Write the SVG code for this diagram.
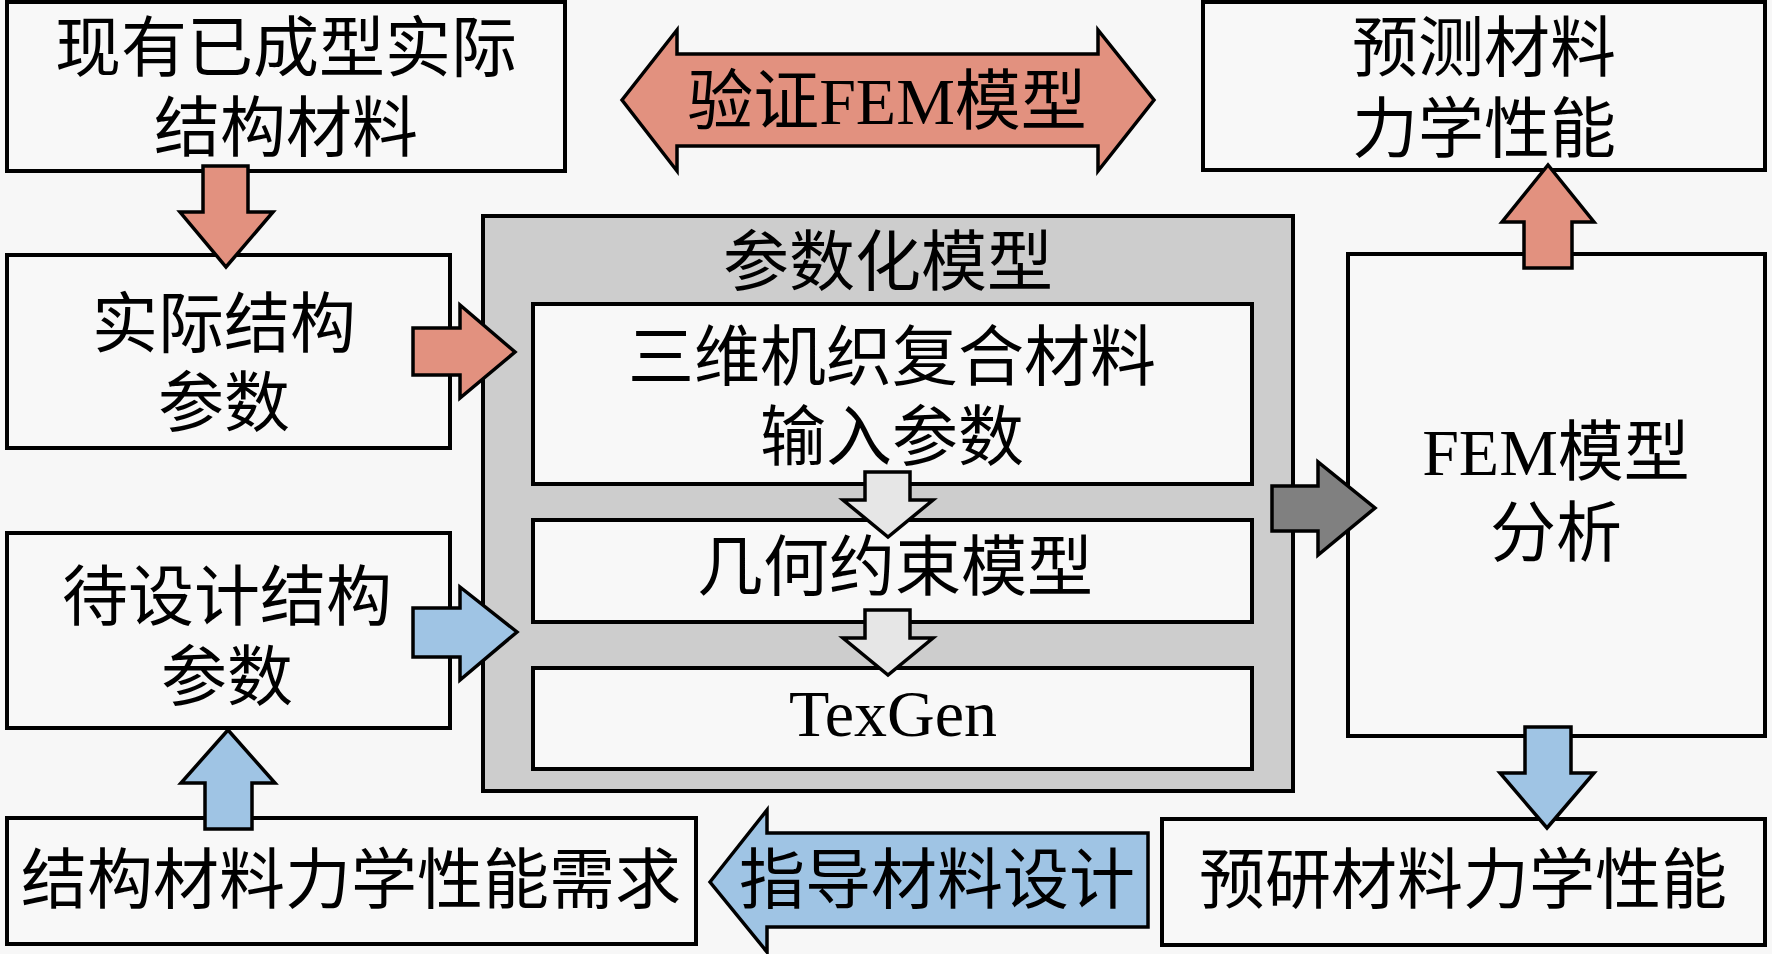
<svg xmlns="http://www.w3.org/2000/svg" width="1772" height="954" viewBox="0 0 1772 954">
<style>
.bg{fill:#F7F7F7}
.box{fill:#F8F8F8;stroke:#000;stroke-width:4}
.gray{fill:#CDCDCD;stroke:#000;stroke-width:4}
.t{font-family:"Liberation Serif","Noto Sans CJK SC",serif;font-size:66px;fill:#000;text-anchor:middle}
.red{fill:#E2917F;stroke:#000;stroke-width:3.5;stroke-linejoin:miter}
.blue{fill:#9FC4E4;stroke:#000;stroke-width:3.5;stroke-linejoin:miter}
.dark{fill:#808080;stroke:#000;stroke-width:3.5;stroke-linejoin:miter}
.light{fill:#E6E6E6;stroke:#000;stroke-width:3.5;stroke-linejoin:miter}
</style>
<rect class="bg" x="0" y="0" width="1772" height="954"/>

<g id="existing-material">
<rect class="box" x="7" y="2" width="558" height="169"/>
<text class="t" x="286" y="71">现有已成型实际</text>
<text class="t" x="286" y="151">结构材料</text>
</g>

<g id="actual-params">
<rect class="box" x="7" y="255" width="443" height="193"/>
<text class="t" x="224" y="347">实际结构</text>
<text class="t" x="224" y="426">参数</text>
</g>

<g id="design-params">
<rect class="box" x="7" y="533" width="443" height="195"/>
<text class="t" x="227" y="620">待设计结构</text>
<text class="t" x="227" y="700">参数</text>
</g>

<g id="requirement">
<rect class="box" x="7" y="818" width="689" height="126"/>
<text class="t" x="351" y="903">结构材料力学性能需求</text>
</g>

<g id="param-model">
<rect class="gray" x="483" y="216" width="810" height="575"/>
<text class="t" x="888" y="285">参数化模型</text>
<g id="input-params">
<rect class="box" x="533" y="304" width="719" height="180"/>
<text class="t" x="892" y="380">三维机织复合材料</text>
<text class="t" x="892" y="460">输入参数</text>
</g>
<g id="geometry-model">
<rect class="box" x="533" y="520" width="719" height="102"/>
<text class="t" x="895" y="590">几何约束模型</text>
</g>
<g id="texgen">
<rect class="box" x="533" y="668" width="719" height="101"/>
<text class="t" x="893" y="736">TexGen</text>
</g>
</g>

<g id="fem-analysis">
<rect class="box" x="1348" y="254" width="417" height="482"/>
<text class="t" x="1556" y="475">FEM模型</text>
<text class="t" x="1556" y="556">分析</text>
</g>

<g id="predict">
<rect class="box" x="1203" y="2" width="562" height="168"/>
<text class="t" x="1484" y="71">预测材料</text>
<text class="t" x="1484" y="152">力学性能</text>
</g>

<g id="preresearch">
<rect class="box" x="1162" y="819" width="603" height="126"/>
<text class="t" x="1463" y="903">预研材料力学性能</text>
</g>

<g id="connectors">
<polygon class="red" points="622,100 677,30 677,54 1098,54 1098,30 1154,100 1098,171 1098,146 677,146 677,171"/>
<text class="t" x="887" y="124">验证FEM模型</text>

<polygon class="red" points="203,166 248,166 248,212 273,212 226,267 180,212 203,212"/>
<polygon class="red" points="413,328 460,328 460,305 515,352 460,398 460,375 413,375"/>
<polygon class="blue" points="413,608 460,608 460,587 517,632 460,680 460,657 413,657"/>
<polygon class="blue" points="205,829 205,783 181,783 228,730 275,783 252,783 252,829"/>

<polygon class="light" points="865,472 910,472 910,500 933,500 888,537 843,500 865,500"/>
<polygon class="light" points="865,610 910,610 910,638 933,638 888,675 843,638 865,638"/>

<polygon class="dark" points="1272,486 1318,486 1318,462 1375,508 1318,555 1318,531 1272,531"/>

<polygon class="red" points="1524,268 1524,222 1502,222 1548,165 1594,222 1572,222 1572,268"/>
<polygon class="blue" points="1525,727 1571,727 1571,773 1594,773 1547,828 1500,773 1525,773"/>

<polygon class="blue" points="710,882 767,810 767,833 1148,833 1148,927 767,927 767,952"/>
<text class="t" x="937" y="903">指导材料设计</text>
</g>
</svg>
